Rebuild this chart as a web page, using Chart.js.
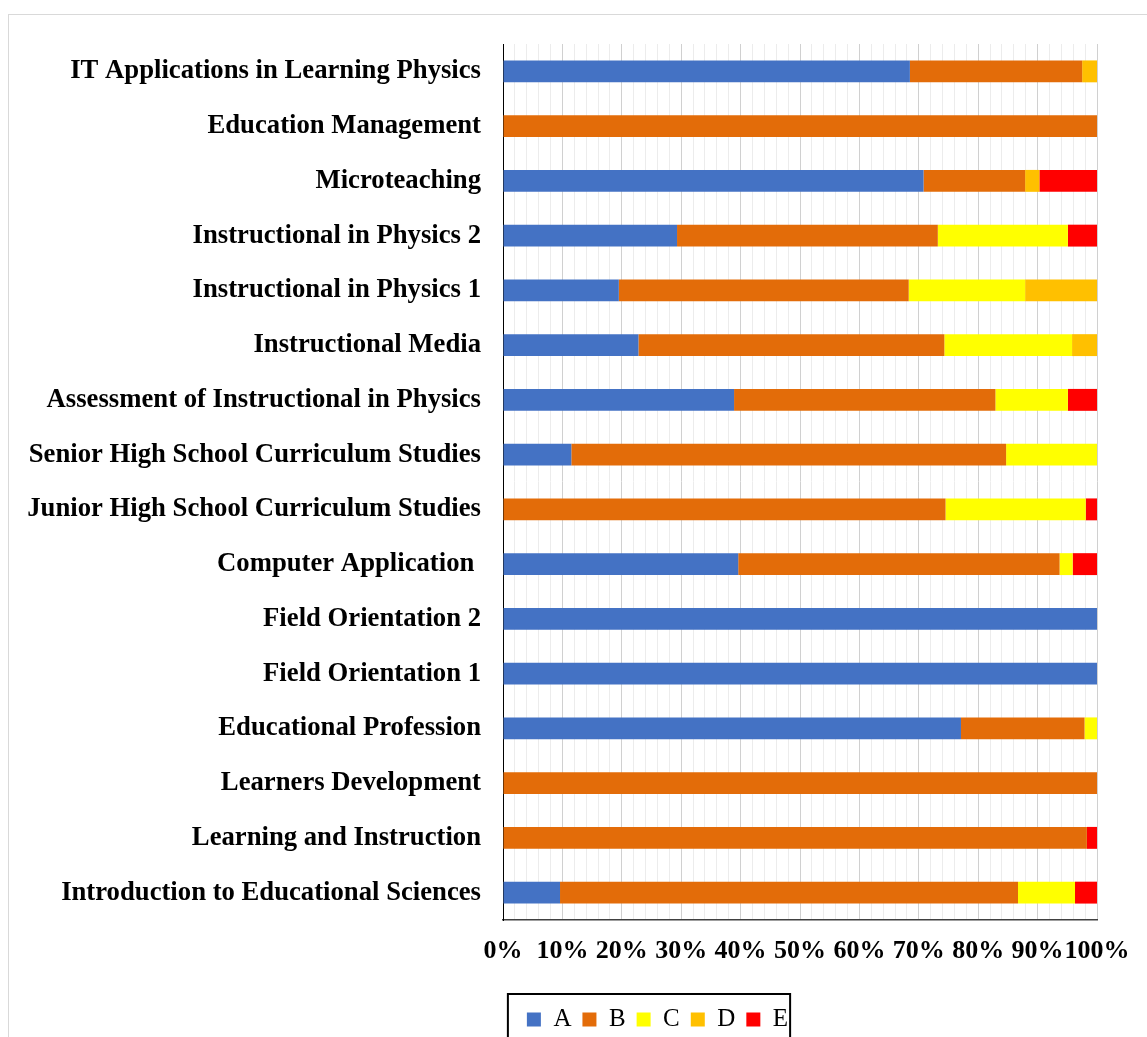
<!DOCTYPE html>
<html>
<head>
<meta charset="utf-8">
<script src="https://cdn.jsdelivr.net/npm/chart.js@4.4.1/dist/chart.umd.min.js"></script>
<style>
  html, body { margin: 0; padding: 0; background: #fff; overflow: hidden; }
  .frame { position: absolute; left: 8px; top: 14px; width: 1300px; height: 1100px; border: 1px solid #d9d9d9; }
  .chart-wrap { position: absolute; left: 0; top: 0; width: 1138px; height: 1027px; }
</style>
</head>
<body>
<div class="frame"><div class="chart-wrap"><canvas id="grades-chart"></canvas></div></div>
<script>
// ======================================================
// GRADE DISTRIBUTION PER COURSE (100% stacked bars)
// ======================================================
const courses = [
  'IT Applications in Learning Physics',
  'Education Management',
  'Microteaching',
  'Instructional in Physics 2',
  'Instructional in Physics 1',
  'Instructional Media',
  'Assessment of Instructional in Physics',
  'Senior High School Curriculum Studies',
  'Junior High School Curriculum Studies',
  'Computer Application ',
  'Field Orientation 2',
  'Field Orientation 1',
  'Educational Profession',
  'Learners Development',
  'Learning and Instruction',
  'Introduction to Educational Sciences'
];

// percentage of students per grade, same order as courses
const gradeA = [68.5, 0, 70.8, 29.3, 19.5, 22.8, 38.9, 11.5, 0, 39.6, 100, 100, 77.1, 0, 0, 9.6];
const gradeB = [29.0, 100, 17.1, 43.9, 48.8, 51.5, 44.0, 73.2, 74.5, 54.1, 0, 0, 20.8, 100, 98.3, 77.1];
const gradeC = [0, 0, 0, 21.9, 19.6, 21.5, 12.2, 15.3, 23.6, 2.2, 0, 0, 2.1, 0, 0, 9.6];
const gradeD = [2.5, 0, 2.4, 0, 12.1, 4.2, 0, 0, 0, 0, 0, 0, 0, 0, 0, 0];
const gradeE = [0, 0, 9.7, 4.9, 0, 0, 4.9, 0, 1.9, 4.1, 0, 0, 0, 0, 1.7, 3.7];

const gradeLabels = ['A', 'B', 'C', 'D', 'E'];
const gradeColors = ['#4472C4', '#E36C09', '#FFFF00', '#FFC000', '#FF0000'];
const xTickLabels = ['0%', '10%', '20%', '30%', '40%', '50%', '60%', '70%', '80%', '90%', '100%'];

const FONT = "'Liberation Serif', 'Times New Roman', serif";

// legend sits off-centre in the original and has a black frame around it
const legendFrame = {
  id: 'legendFrame',
  afterLayout(chart) {
    const lg = chart.legend;
    const shift = 648.5 - (lg.left + lg.right) / 2;
    lg.left += shift;
    lg.right += shift;
  },
  afterDraw(chart) {
    const lg = chart.legend;
    const boxes = lg.legendHitBoxes;
    if (!boxes || !boxes.length) return;
    const first = boxes[0], last = boxes[boxes.length - 1];
    const ctx = chart.ctx;
    ctx.save();
    ctx.strokeStyle = '#000';
    ctx.lineWidth = 2;
    ctx.strokeRect(first.left - 19, lg.top - 2, (last.left + last.width) - first.left + 21, lg.height + 20);
    ctx.restore();
  }
};

const gradeSeries = [gradeA, gradeB, gradeC, gradeD, gradeE];

new Chart(document.getElementById('grades-chart'), {
  type: 'bar',
  data: {
    labels: courses,
    datasets: gradeLabels.map((g, i) => ({
      label: g,
      data: gradeSeries[i],
      backgroundColor: gradeColors[i],
      borderWidth: 0,
      barPercentage: 0.4,
      categoryPercentage: 1
    }))
  },
  options: {
    indexAxis: 'y',
    responsive: true, maintainAspectRatio: false,
    animation: false,
    layout: { padding: { top: 29, right: 50, left: 0, bottom: 0 } },
    plugins: {
      legend: {
        position: 'bottom',
        labels: { boxWidth: 14, boxHeight: 14, padding: 11, color: '#000', font: { family: FONT, size: 25 } }
      },
      tooltip: { enabled: false }
    },
    scales: {
      x: {
        stacked: true, min: 0, max: 100,
        afterFit: (s) => { s.height = 76; },
        grid: {
          drawTicks: false,
          lineWidth: 1,
          color: (c) => {
            const v = c.tick ? c.tick.value : 0;
            if (v === 0) return '#000';
            return v % 10 === 0 ? '#d0d0d0' : '#ececec';
          }
        },
        border: { color: '#404040', width: 1.5 },
        ticks: {
          stepSize: 2, autoSkip: false, maxRotation: 0, padding: 16, color: '#000',
          font: { family: FONT, size: 26, weight: 'bold' },
          callback: (v) => v % 10 === 0 ? xTickLabels[v / 10] : ''
        }
      },
      y: {
        stacked: true,
        afterFit: (s) => { s.width = 494; s.paddingTop = 0; s.paddingBottom = 0; },
        grid: { display: false, drawTicks: false },
        border: { color: '#000', width: 1 },
        ticks: { padding: 22, color: '#000', font: { family: FONT, size: 26.7, weight: 'bold' } }
      }
    }
  },
  plugins: [legendFrame]
});
</script>
</body>
</html>
